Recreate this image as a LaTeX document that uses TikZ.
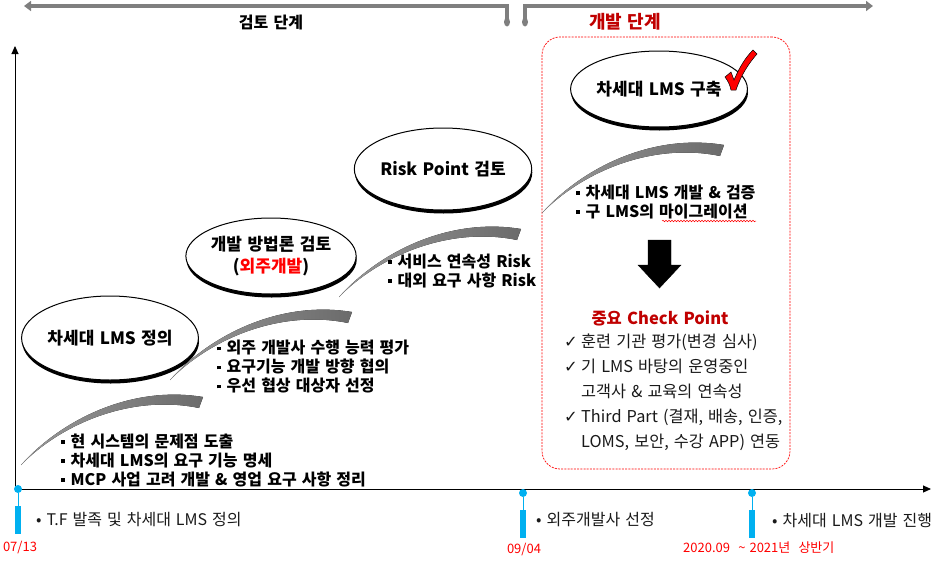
\documentclass[tikz,border=0pt]{standalone}
\usepackage{fontspec}
\setmainfont{Noto Sans CJK KR}[WordSpace=1.4]
\newfontfamily\symfont{DejaVu Sans}
\usetikzlibrary{arrows.meta, shapes.geometric, shadows, decorations.pathmorphing}
\definecolor{bargray}{RGB}{127,127,127}
\definecolor{phasered}{RGB}{192,0,0}
\definecolor{datered}{RGB}{255,0,0}
\definecolor{tlblue}{RGB}{0,176,240}
\definecolor{textdark}{RGB}{25,25,25}
\newcommand{\sqbullet}{\rule[3.5pt]{3.5pt}{3.5pt}\hspace{6pt}}
\newcommand{\chk}{\makebox[17pt][l]{\symfont ✓}}
\tikzset{
  % Phase bar on top
  topbar/.style={
    draw=bargray, line width=3.2pt
  },
  phasetext/.style={
    font=\fontsize{16}{18}\selectfont\bfseries, text=black
  },
  % Stage ellipse
  stage/.style={
    ellipse, draw=black, line width=1pt, fill=white,
    minimum width=148pt, minimum height=78pt, inner sep=0pt,
    font=\fontsize{17}{22}\selectfont\bfseries, align=center,
    general shadow={fill=black, shadow xshift=0.6pt, shadow yshift=-3.5pt}
  },
  % Bullet list next to a swoosh
  tasklist/.style={
    anchor=west, align=left, inner sep=0pt,
    font=\fontsize{16}{19}\selectfont\bfseries
  },
  % Check point list
  checklist/.style={
    anchor=west, align=left, inner sep=0pt, text=textdark,
    font=\fontsize{16.3}{25}\selectfont
  },
  % Axes
  axis/.style={
    draw=black, line width=0.9pt, -{Triangle[length=8pt,width=7pt]}
  },
  % Timeline marks
  tldot/.style={
    circle, fill=tlblue, minimum size=8pt, inner sep=0pt
  },
  tlbar/.style={
    rectangle, fill=tlblue, minimum width=5.5pt, minimum height=28pt,
    inner sep=0pt, anchor=north
  },
  tlline/.style={
    draw=tlblue, line width=0.9pt
  },
  tllabel/.style={
    anchor=west, inner sep=0pt, text=textdark, font=\fontsize{16}{18}\selectfont
  },
  datelabel/.style={
    inner sep=0pt, text=datered, font=\fontsize{13}{15}\selectfont
  },
  % Development frame
  devframe/.style={
    rectangle, rounded corners=18pt, draw=datered, dashed,
    dash pattern=on 2pt off 1.2pt, line width=0.7pt,
    minimum width=248pt, minimum height=432pt, inner sep=0pt
  },
  % Rising swoosh under each stage
  swoosh/.pic={
    \fill[left color=black!40, middle color=black!72, right color=black!58]
      (0,0) .. controls (40,-45) and (110,-80) .. (182,-68)
      -- (178,-57) .. controls (110,-71) and (40,-41) .. (0,0) -- cycle;
  }
}

\begin{document}
\begin{tikzpicture}[x=1pt, y=-1pt]
\useasboundingbox (0,0) rectangle (936,562);

%% ── PHASE BAR ───────────────────────────────────────────────────────────

\coordinate (reviewL) at (24,6);
\coordinate (reviewR) at (507,6);
\coordinate (reviewEnd) at (507,22);
\coordinate (devL) at (525,22);
\coordinate (devC) at (525,6);
\coordinate (devR) at (873,6);

\draw[topbar, {Triangle[length=7pt,width=10pt]}-] (reviewL) -- (reviewR) -- (reviewEnd);
\draw[topbar, -{Triangle[length=7pt,width=10pt]}] (devL) -- (devC) -- (devR);
\fill[bargray] (reviewEnd) ellipse (3 and 4.5);
\fill[bargray] (devL) ellipse (3 and 4.5);

\node[phasetext] (review) at (271,22) {검토 단계};
\node[phasetext, text=phasered, font=\fontsize{18}{20}\selectfont\bfseries] (develop) at (625,22) {개발 단계};

%% ── AXES ────────────────────────────────────────────────────────────────

\coordinate (origin) at (15,489);
\coordinate (ytop) at (15,46);
\coordinate (xend) at (931,489);
\draw[axis] (origin) -- (ytop);
\draw[axis] (origin) -- (xend);

%% ── DEVELOPMENT FRAME ───────────────────────────────────────────────────

\node[devframe] (frame) at (666,253) {};

%% ── SWOOSHES ────────────────────────────────────────────────────────────

\pic at (21,465) {swoosh};
\pic at (170,380) {swoosh};
\pic at (339,297) {swoosh};
\pic at (542,213) {swoosh};

%% ── STAGES ──────────────────────────────────────────────────────────────

\node[stage, minimum height=84pt] (define) at (110,338) {차세대 LMS 정의};
\node[stage, minimum height=76pt] (method) at (271,256)
  {개발 방법론 검토\\({\color{datered}외주개발})};
\node[stage, minimum height=82pt] (risk) at (443,169) {Risk Point 검토};
\node[stage, minimum height=76pt] (build) at (659,89) {차세대 LMS 구축};

% red check mark
\filldraw[fill=datered, draw=black, line width=0.5pt]
  (725,77) .. controls (728,74) .. (731,72) -- (734,80)
  .. controls (740,66) and (746,57) .. (753,50) -- (757,54)
  .. controls (749,63) and (741,75) .. (736,90) -- (731,90)
  .. controls (730,85) and (728,81) .. (725,77) -- cycle;

%% ── TASK LISTS ──────────────────────────────────────────────────────────

\node[tasklist] (tasks1) at (61,460)
  {\sqbullet 현 시스템의 문제점 도출\\
   \sqbullet 차세대 LMS의 요구 기능 명세\\
   \sqbullet MCP 사업 고려 개발 \& 영업 요구 사항 정리};

\node[tasklist] (tasks2) at (217,367)
  {\sqbullet 외주 개발사 수행 능력 평가\\
   \sqbullet 요구기능 개발 방향 협의\\
   \sqbullet 우선 협상 대상자 선정};

\node[tasklist] (tasks3) at (388,271)
  {\sqbullet 서비스 연속성 Risk\\
   \sqbullet 대외 요구 사항 Risk};

\node[tasklist] (tasks4) at (576,202)
  {\sqbullet 차세대 LMS 개발 \& 검증\\
   \sqbullet 구 LMS의 마이그레이션};

\draw[datered, line width=0.5pt, decorate,
  decoration={snake, amplitude=0.8pt, segment length=3pt}]
  (662,221) -- (756,221);

%% ── CHECK POINTS ────────────────────────────────────────────────────────

\draw[fill=black] (648,240) -- (671,240) -- (671,265) -- (681,265)
  -- (659.5,288) -- (638,265) -- (648,265) -- cycle;

\node[text=phasered, font=\fontsize{16.5}{18}\selectfont\bfseries] (checktitle)
  at (660,318) {중요 Check Point};

\node[checklist] (checks) at (564,392)
  {\chk 훈련 기관 평가(변경 심사)\\
   \chk 기 LMS 바탕의 운영중인\\
   \hspace*{17pt}고객사 \& 교육의 연속성\\
   \chk Third Part (결재, 배송, 인증,\\
   \hspace*{17pt}LOMS, 보안, 수강 APP) 연동};

%% ── TIMELINE MARKS ──────────────────────────────────────────────────────

\node[tldot] (kickoff) at (18,489) {};
\node[tlbar] (kickoffbar) at (18,506) {};
\draw[tlline] (kickoff) -- (kickoffbar);
\node[tllabel] (kickofftxt) at (36,520) {• T.F 발족 및 차세대 LMS 정의};
\node[datelabel] (kickoffdate) at (20,547) {07/13};

\node[tldot] (vendor) at (523,493) {};
\node[tlbar] (vendorbar) at (523,510) {};
\draw[tlline] (vendor) -- (vendorbar);
\node[tllabel] (vendortxt) at (536,520) {• 외주개발사 선정};
\node[datelabel] (vendordate) at (524,549) {09/04};

\node[tldot] (devstart) at (752,493) {};
\node[tlbar] (devstartbar) at (752,510) {};
\draw[tlline] (devstart) -- (devstartbar);
\node[tllabel] (devstarttxt) at (772,520) {• 차세대 LMS 개발 진행};
\node[datelabel, anchor=west] (devstartdate) at (683,548)
  {2020.09 \ {\char"7E} 2021년 \ 상반기};

\end{tikzpicture}
\end{document}
